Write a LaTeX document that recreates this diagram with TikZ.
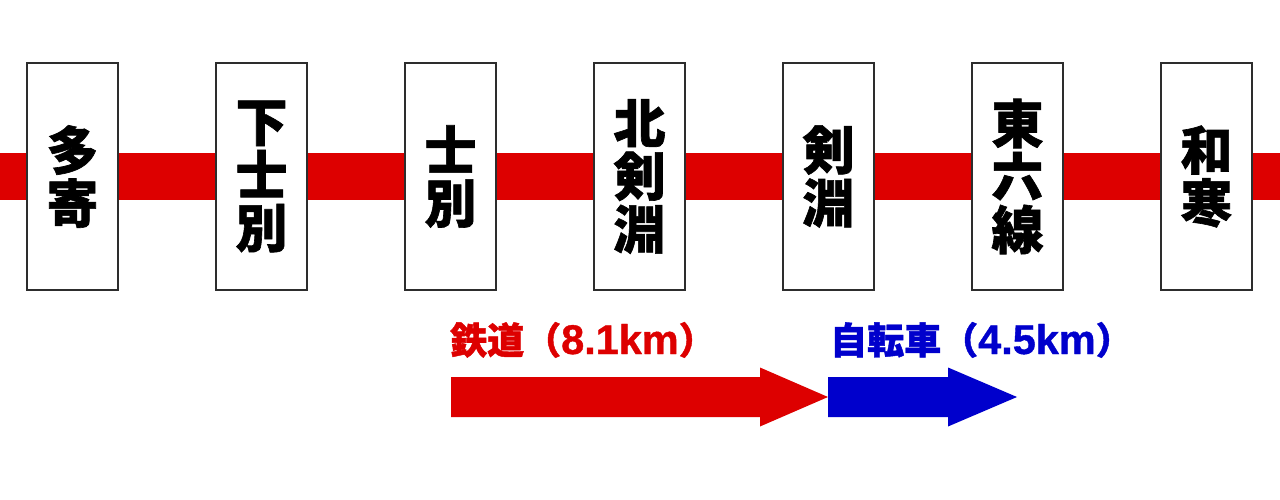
\documentclass[tikz,border=0pt]{standalone}
\usepackage{fontspec}
\newfontfamily\jpfont{Noto Sans CJK JP}[BoldFeatures={FakeBold=1.2}]
\newfontfamily\numfont{Liberation Sans}[Scale=1.12, BoldFeatures={FakeBold=1}]
\usepackage{xcolor}
\usepackage{tikz}
\usetikzlibrary{positioning}
\usetikzlibrary{calc}
\definecolor{railred}{RGB}{221,0,0}
\definecolor{bikeblue}{RGB}{0,0,204}
\definecolor{boxline}{RGB}{45,45,45}

\begin{document}
\begin{tikzpicture}[x=1pt, y=-1pt,
	station/.style={draw=boxline, line width=2pt, fill=white, minimum width=91pt, minimum height=227pt, inner sep=0pt, align=center, font=\jpfont\bfseries\fontsize{52}{53}\selectfont},
	legend/.style={anchor=base west, inner sep=0pt, font=\jpfont\bfseries\fontsize{37}{37}\selectfont}]
		\useasboundingbox (0,0) rectangle (1280,500);
		%coordinates
		\coordinate (LineW) at (0,153);
		\coordinate (LineE) at (1280,200);
		
		\coordinate (RailS) at (451,397);
		\coordinate (RailE) at (828,397);
		\coordinate (BikeE) at (1017,397);
		
		%line
		\fill[railred] (LineW) rectangle (LineE);
		
		%nodes
		\node[station] (Taki)     at (72.5,176.5)  {多\\寄};
		\node[station] (Shimo)    at (261.5,176.5) {下\\士\\別};
		\node[station] (Shibetsu) at (450.5,176.5) {士\\別};
		\node[station] (KitaKen)  at (639.5,176.5) {北\\剣\\淵};
		\node[station] (Kembuchi) at (828.5,176.5) {剣\\淵};
		\node[station] (Higashi)  at (1017.5,176.5){東\\六\\線};
		\node[station] (Wassamu)  at (1206.5,176.5){和\\寒};
		
		\node[legend, text=railred]  (RailL) at (450,354) {鉄道（{\numfont\bfseries 8.1km}）};
		\node[legend, text=bikeblue] (BikeL) at (830,354) {自転車（{\numfont\bfseries 4.5km}）};
		
		%arrows
		\fill[railred] ($(RailS)+(0,-20)$) -- ($(RailE)+(-68,-20)$) -- ($(RailE)+(-68,-29.5)$) -- (RailE) -- ($(RailE)+(-68,29.5)$) -- ($(RailE)+(-68,20)$) -- ($(RailS)+(0,20)$) -- cycle;
		\fill[bikeblue] ($(RailE)+(0,-20)$) -- ($(BikeE)+(-69,-20)$) -- ($(BikeE)+(-69,-29.5)$) -- (BikeE) -- ($(BikeE)+(-69,29.5)$) -- ($(BikeE)+(-69,20)$) -- ($(RailE)+(0,20)$) -- cycle;
		\end{tikzpicture}
\end{document}
